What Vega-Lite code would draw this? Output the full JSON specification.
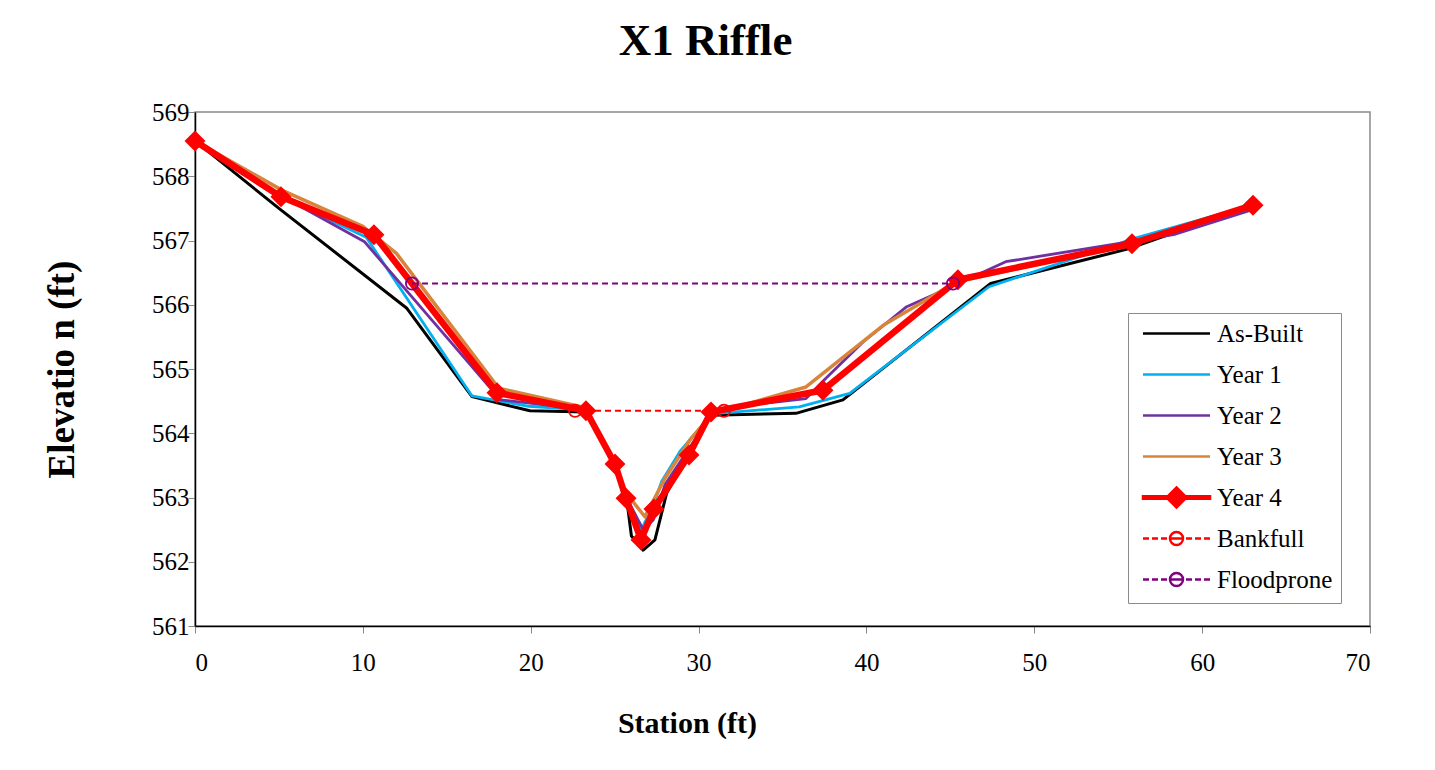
{
  "$schema": "https://vega.github.io/schema/vega-lite/v6.json",
  "width": 1175,
  "height": 514,
  "autosize": "none",
  "padding": {"left": 195, "top": 112, "right": 65, "bottom": 144},
  "background": "white",
  "title": {
    "text": "X1 Riffle",
    "font": "Liberation Serif",
    "fontSize": 45,
    "fontWeight": "bold",
    "color": "black",
    "anchor": "middle",
    "dx": -77,
    "offset": 36
  },
  "config": {
    "view": {"stroke": "#8a8a8a", "strokeWidth": 1.5},
    "axis": {
      "grid": false,
      "labelFont": "Liberation Serif",
      "labelFontSize": 25,
      "labelColor": "black",
      "titleFont": "Liberation Serif",
      "titleFontSize": 30,
      "titleFontWeight": "bold",
      "titleColor": "black",
      "domainColor": "black",
      "domainWidth": 1.5,
      "tickColor": "#888888",
      "tickSize": 7,
      "tickWidth": 1
    }
  },
  "data": {
    "values": [
      {"series": "As-Built", "x": 0, "y": 568.55},
      {"series": "As-Built", "x": 5.0, "y": 567.5},
      {"series": "As-Built", "x": 12.6, "y": 565.95},
      {"series": "As-Built", "x": 16.5, "y": 564.57},
      {"series": "As-Built", "x": 19.95, "y": 564.35},
      {"series": "As-Built", "x": 23.3, "y": 564.33},
      {"series": "As-Built", "x": 25.0, "y": 563.5},
      {"series": "As-Built", "x": 25.8, "y": 562.81},
      {"series": "As-Built", "x": 26.0, "y": 562.4},
      {"series": "As-Built", "x": 26.7, "y": 562.18},
      {"series": "As-Built", "x": 27.4, "y": 562.34},
      {"series": "As-Built", "x": 28.1, "y": 563.07},
      {"series": "As-Built", "x": 30.7, "y": 564.28},
      {"series": "As-Built", "x": 35.8, "y": 564.31},
      {"series": "As-Built", "x": 38.6, "y": 564.52},
      {"series": "As-Built", "x": 47.4, "y": 566.33},
      {"series": "As-Built", "x": 55.6, "y": 566.87},
      {"series": "As-Built", "x": 63.0, "y": 567.55},

      {"series": "Year 1", "x": 0, "y": 568.55},
      {"series": "Year 1", "x": 5.1, "y": 567.68},
      {"series": "Year 1", "x": 10.2, "y": 567.05},
      {"series": "Year 1", "x": 16.5, "y": 564.58},
      {"series": "Year 1", "x": 19.9, "y": 564.42},
      {"series": "Year 1", "x": 23.4, "y": 564.36},
      {"series": "Year 1", "x": 25.0, "y": 563.45},
      {"series": "Year 1", "x": 25.9, "y": 562.85},
      {"series": "Year 1", "x": 26.6, "y": 562.5},
      {"series": "Year 1", "x": 27.4, "y": 562.95},
      {"series": "Year 1", "x": 27.8, "y": 563.25},
      {"series": "Year 1", "x": 28.9, "y": 563.72},
      {"series": "Year 1", "x": 30.8, "y": 564.3},
      {"series": "Year 1", "x": 31.1, "y": 564.31},
      {"series": "Year 1", "x": 36.0, "y": 564.41},
      {"series": "Year 1", "x": 39.0, "y": 564.62},
      {"series": "Year 1", "x": 47.3, "y": 566.28},
      {"series": "Year 1", "x": 55.8, "y": 567.02},
      {"series": "Year 1", "x": 63.0, "y": 567.55},

      {"series": "Year 2", "x": 0, "y": 568.55},
      {"series": "Year 2", "x": 5.1, "y": 567.7},
      {"series": "Year 2", "x": 10.1, "y": 566.98},
      {"series": "Year 2", "x": 18.2, "y": 564.52},
      {"series": "Year 2", "x": 22.9, "y": 564.38},
      {"series": "Year 2", "x": 23.4, "y": 564.34},
      {"series": "Year 2", "x": 25.0, "y": 563.5},
      {"series": "Year 2", "x": 25.8, "y": 562.95},
      {"series": "Year 2", "x": 26.7, "y": 562.5},
      {"series": "Year 2", "x": 27.3, "y": 562.65},
      {"series": "Year 2", "x": 28.0, "y": 563.2},
      {"series": "Year 2", "x": 29.4, "y": 563.75},
      {"series": "Year 2", "x": 30.8, "y": 564.3},
      {"series": "Year 2", "x": 33.1, "y": 564.44},
      {"series": "Year 2", "x": 36.4, "y": 564.54},
      {"series": "Year 2", "x": 37.6, "y": 564.86},
      {"series": "Year 2", "x": 39.8, "y": 565.42},
      {"series": "Year 2", "x": 42.4, "y": 565.97},
      {"series": "Year 2", "x": 44.2, "y": 566.18},
      {"series": "Year 2", "x": 48.3, "y": 566.67},
      {"series": "Year 2", "x": 58.3, "y": 567.09},
      {"series": "Year 2", "x": 63.0, "y": 567.48},

      {"series": "Year 3", "x": 0, "y": 568.55},
      {"series": "Year 3", "x": 5.2, "y": 567.78},
      {"series": "Year 3", "x": 10.0, "y": 567.22},
      {"series": "Year 3", "x": 12.0, "y": 566.8},
      {"series": "Year 3", "x": 18.1, "y": 564.7},
      {"series": "Year 3", "x": 23.2, "y": 564.4},
      {"series": "Year 3", "x": 24.9, "y": 563.55},
      {"series": "Year 3", "x": 25.6, "y": 563.1},
      {"series": "Year 3", "x": 26.8, "y": 562.7},
      {"series": "Year 3", "x": 28.0, "y": 563.3},
      {"series": "Year 3", "x": 29.5, "y": 563.9},
      {"series": "Year 3", "x": 30.8, "y": 564.3},
      {"series": "Year 3", "x": 36.4, "y": 564.72},
      {"series": "Year 3", "x": 41.0, "y": 565.68},
      {"series": "Year 3", "x": 43.4, "y": 566.05},
      {"series": "Year 3", "x": 45.3, "y": 566.35},
      {"series": "Year 3", "x": 55.8, "y": 566.95},
      {"series": "Year 3", "x": 63.0, "y": 567.55},

      {"series": "Year 4", "x": 0, "y": 568.55},
      {"series": "Year 4", "x": 5.12, "y": 567.68},
      {"series": "Year 4", "x": 10.66, "y": 567.09},
      {"series": "Year 4", "x": 17.99, "y": 564.63},
      {"series": "Year 4", "x": 23.29, "y": 564.35},
      {"series": "Year 4", "x": 25.02, "y": 563.52},
      {"series": "Year 4", "x": 25.68, "y": 562.99},
      {"series": "Year 4", "x": 26.57, "y": 562.34},
      {"series": "Year 4", "x": 27.34, "y": 562.82},
      {"series": "Year 4", "x": 29.43, "y": 563.66},
      {"series": "Year 4", "x": 30.74, "y": 564.33},
      {"series": "Year 4", "x": 37.41, "y": 564.67},
      {"series": "Year 4", "x": 45.45, "y": 566.39},
      {"series": "Year 4", "x": 55.82, "y": 566.95},
      {"series": "Year 4", "x": 63.03, "y": 567.55},

      {"series": "Bankfull", "x": 22.64, "y": 564.35},
      {"series": "Bankfull", "x": 31.51, "y": 564.35},

      {"series": "Floodprone", "x": 12.93, "y": 566.33},
      {"series": "Floodprone", "x": 45.16, "y": 566.33}
    ]
  },
  "encoding": {
    "x": {
      "field": "x",
      "type": "quantitative",
      "scale": {"domain": [0, 70], "nice": false},
      "axis": {
        "values": [0, 10, 20, 30, 40, 50, 60, 70],
        "title": "Station (ft)",
        "labelPadding": 17,
        "titleX": 492,
        "titleY": 106,
        "titleAlign": "center",
        "titleBaseline": "alphabetic"
      }
    },
    "y": {
      "field": "y",
      "type": "quantitative",
      "scale": {"domain": [561, 569], "nice": false, "zero": false},
      "axis": {
        "values": [561, 562, 563, 564, 565, 566, 567, 568, 569],
        "title": "Elevatio n (ft)",
        "titleFontSize": 37,
        "labelPadding": -1,
        "titleAngle": 270,
        "titleX": -133,
        "titleY": 257,
        "titleAlign": "center",
        "titleBaseline": "middle"
      }
    }
  },
  "layer": [
    {
      "transform": [{"filter": "datum.series === 'As-Built'"}],
      "mark": {"type": "line", "strokeJoin": "round", "strokeWidth": 3},
      "encoding": {
        "color": {
          "field": "series",
          "type": "nominal",
          "scale": {
            "domain": ["As-Built", "Year 1", "Year 2", "Year 3", "Year 4", "Bankfull", "Floodprone"],
            "range": ["#000000", "#00B0F0", "#7030A0", "#D8843A", "#FF0000", "#FF0000", "#800080"]
          },
          "legend": {
            "title": null,
            "orient": "none",
            "direction": "vertical",
            "legendX": 933,
            "legendY": 201,
            "padding": 8,
            "strokeColor": "#8a8a8a",
            "fillColor": "white",
            "symbolSize": 100,
            "symbolType": "stroke",
            "symbolOffset": 28,
            "labelFont": "Liberation Serif",
            "labelFontSize": 25,
            "labelColor": "black",
            "labelOffset": 28,
            "labelLimit": 300,
            "rowPadding": 10,
            "encode": {
              "symbols": {
                "update": {
                  "shape": {"signal": "'M 0 -2 L 0 -2 M 0 2 L 0 2 ' + (datum.value === 'Year 4' ? 'M -6.7 -0.25 H 6.7 V 0.25 H -6.7 Z M 0 -2 L 2 0 L 0 2 L -2 0 Z' : (datum.value === 'Bankfull' || datum.value === 'Floodprone') ? 'M -6.7 0 H -5.5 M -4.9 0 H -3.7 M -3.1 0 H -1.9 M -1.3 0 H 1.3 M 1.9 0 H 3.1 M 3.7 0 H 4.9 M 5.5 0 H 6.7 M 1.3 0 A 1.3 1.3 0 1 1 -1.3 0 A 1.3 1.3 0 1 1 1.3 0' : 'M -6.7 0 H 6.7')"},
                  "fill": {"signal": "datum.value === 'Year 4' ? '#FF0000' : 'transparent'"},
                  "strokeWidth": {"value": 2.5},
                  "strokeDash": {"value": []},
                  "opacity": {"value": 1}
                }
              }
            }
          }
        }
      }
    },
    {
      "transform": [{"filter": "datum.series === 'Year 1'"}],
      "mark": {"type": "line", "strokeJoin": "round", "strokeWidth": 2.8},
      "encoding": {"color": {"field": "series", "type": "nominal"}}
    },
    {
      "transform": [{"filter": "datum.series === 'Year 2'"}],
      "mark": {"type": "line", "strokeJoin": "round", "strokeWidth": 2.8},
      "encoding": {"color": {"field": "series", "type": "nominal"}}
    },
    {
      "transform": [{"filter": "datum.series === 'Year 3'"}],
      "mark": {"type": "line", "strokeJoin": "round", "strokeWidth": 3.5},
      "encoding": {"color": {"field": "series", "type": "nominal"}}
    },
    {
      "transform": [{"filter": "datum.series === 'Year 4'"}],
      "mark": {"type": "line", "strokeJoin": "round", "strokeWidth": 6.5},
      "encoding": {"color": {"field": "series", "type": "nominal"}}
    },
    {
      "transform": [{"filter": "datum.series === 'Bankfull' || datum.series === 'Floodprone'"}],
      "mark": {"type": "line", "strokeWidth": 2, "strokeDash": [6, 4]},
      "encoding": {"color": {"field": "series", "type": "nominal"}}
    },
    {
      "transform": [{"filter": "datum.series === 'Year 4'"}],
      "mark": {"type": "point", "shape": "diamond", "filled": true, "color": "#FF0000", "size": 440, "opacity": 1}
    },
    {
      "transform": [{"filter": "datum.series === 'Bankfull'"}],
      "mark": {"type": "point", "shape": "circle", "filled": false, "color": "#FF0000", "size": 150, "strokeWidth": 1.8, "opacity": 1}
    },
    {
      "transform": [{"filter": "datum.series === 'Floodprone'"}],
      "mark": {"type": "point", "shape": "circle", "filled": false, "color": "#800080", "size": 150, "strokeWidth": 1.8, "opacity": 1}
    }
  ]
}
